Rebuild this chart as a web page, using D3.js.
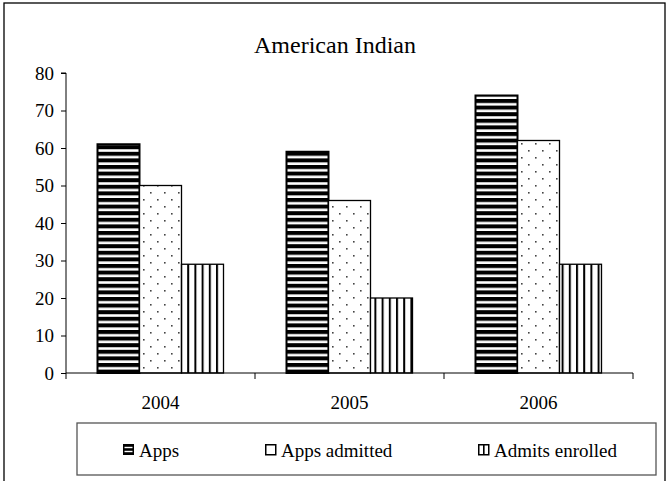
<!DOCTYPE html>
<html><head><meta charset="utf-8">
<script src="https://cdn.jsdelivr.net/npm/d3@7"></script>
<style>body{margin:0;background:#fff}svg{display:block}</style>
</head><body>
<script>
const categories = ["2004", "2005", "2006"];
const seriesNames = ["Apps", "Apps admitted", "Admits enrolled"];
const apps = [61, 59, 74];
const appsAdmitted = [50, 46, 62];
const admitsEnrolled = [29, 20, 29];
const yTicks = [0, 10, 20, 30, 40, 50, 60, 70, 80];
const title = "American Indian";

const FONT = "'Liberation Serif', 'Times New Roman', Times, serif";
const W = 667, H = 481;
const svg = d3.select("body").append("svg").attr("width", W).attr("height", H)
  .style("font-family", FONT);
const defs = svg.append("defs");

// patterns
const ph = defs.append("pattern").attr("id", "hstripe").attr("patternUnits", "userSpaceOnUse")
  .attr("width", 8).attr("height", 6.6);
ph.append("rect").attr("width", 8).attr("height", 6.6).attr("fill", "#fff");
ph.append("rect").attr("y", 0).attr("width", 8).attr("height", 4).attr("fill", "#000");

const pd = defs.append("pattern").attr("id", "dots").attr("patternUnits", "userSpaceOnUse")
  .attr("width", 14).attr("height", 14);
pd.append("rect").attr("width", 14).attr("height", 14).attr("fill", "#fff");
pd.append("rect").attr("x", 3).attr("y", 3).attr("width", 1.6).attr("height", 1.6).attr("fill", "#444");
pd.append("rect").attr("x", 10).attr("y", 10).attr("width", 1.6).attr("height", 1.6).attr("fill", "#444");

const pv = defs.append("pattern").attr("id", "vstripe").attr("patternUnits", "userSpaceOnUse")
  .attr("width", 7.2).attr("height", 8);
pv.append("rect").attr("width", 7.2).attr("height", 8).attr("fill", "#fff");
pv.append("rect").attr("x", 0).attr("width", 2).attr("height", 8).attr("fill", "#000");

const fills = ["url(#hstripe)", "url(#dots)", "url(#vstripe)"];

// outer frame
svg.append("rect").attr("x", 4).attr("y", 3).attr("width", 661).attr("height", 480)
  .attr("fill", "none").attr("stroke", "#000").attr("stroke-width", 1.3);

function txt(sel) { return sel.style("font-family", FONT).attr("fill", "#000"); }

// title
txt(svg.append("text")).attr("x", 335).attr("y", 53).attr("text-anchor", "middle")
  .attr("font-size", 24).text(title);

const x0 = 66, x1 = 633, yTop = 73, yBot = 373;
const x = d3.scaleBand().domain(categories).range([x0, x1]).paddingInner(0).paddingOuter(0);
const y = d3.scaleLinear().domain([0, 80]).range([yBot, yTop]);
// 3 bars + 1.5 bar gap per category
const barW = x.bandwidth() / 4.5;
const off = barW * 0.75;

const data = [apps, appsAdmitted, admitsEnrolled];

const g = svg.append("g");
categories.forEach((c, ci) => {
  data.forEach((arr, si) => {
    g.append("rect")
      .attr("x", x(c) + off + si * barW)
      .attr("y", y(arr[ci]))
      .attr("width", barW)
      .attr("height", y(0) - y(arr[ci]))
      .attr("fill", fills[si])
      .attr("stroke", "#000")
      .attr("stroke-width", si === 0 ? 2 : 1.3);
  });
});

// y axis
const yAxis = d3.axisLeft(y).tickValues(yTicks).tickSize(5).tickPadding(7);
const ya = svg.append("g").attr("transform", `translate(${x0},0)`).call(yAxis);
ya.attr("font-family", null);
ya.select(".domain").attr("stroke", "#000").attr("d", `M-5,${yTop}H0V${yBot}`);
txt(ya.selectAll("text")).attr("font-size", 19).attr("dy", "0.34em");
ya.selectAll("line").attr("stroke", "#000");

// x axis
const xa = svg.append("g").attr("transform", `translate(0,${yBot})`);
xa.append("line").attr("x1", x0).attr("x2", x1).attr("y1", 0).attr("y2", 0).attr("stroke", "#000");
const bounds = categories.map(c => x(c)).concat([x1]);
xa.selectAll("line.tk").data(bounds).enter().append("line").attr("class", "tk")
  .attr("x1", d => d).attr("x2", d => d).attr("y1", 0).attr("y2", 6).attr("stroke", "#000");
txt(xa.selectAll("text").data(categories).enter().append("text"))
  .attr("x", d => x(d) + x.bandwidth() / 2).attr("y", 36).attr("text-anchor", "middle")
  .attr("font-size", 19).text(d => d);

// legend
svg.append("rect").attr("x", 77).attr("y", 423).attr("width", 579).attr("height", 52)
  .attr("fill", "#fff").attr("stroke", "#555").attr("stroke-width", 1.3);
const legX = [123, 265, 478];
seriesNames.forEach((s, i) => {
  const lg = svg.append("g").attr("transform", `translate(${legX[i]},444)`);
  if (i === 0) {
    lg.append("rect").attr("width", 11).attr("height", 11).attr("fill", "#000");
    lg.append("rect").attr("x", 1.5).attr("y", 2.8).attr("width", 8).attr("height", 1.4).attr("fill", "#fff");
    lg.append("rect").attr("x", 1.5).attr("y", 6.8).attr("width", 8).attr("height", 1.4).attr("fill", "#fff");
  } else if (i === 1) {
    lg.append("rect").attr("x", 0.75).attr("y", 0.75).attr("width", 10).attr("height", 10).attr("fill", "#fff").attr("stroke", "#000").attr("stroke-width", 1.5);
  } else {
    lg.append("rect").attr("x", 0.75).attr("y", 0.75).attr("width", 10).attr("height", 10).attr("fill", "#fff").attr("stroke", "#000").attr("stroke-width", 1.5);
    lg.append("rect").attr("x", 5).attr("y", 0.75).attr("width", 1.6).attr("height", 10).attr("fill", "#000");
  }
  txt(lg.append("text")).attr("x", 16).attr("y", 13).attr("font-size", 19).text(s);
});
</script>
</body></html>
